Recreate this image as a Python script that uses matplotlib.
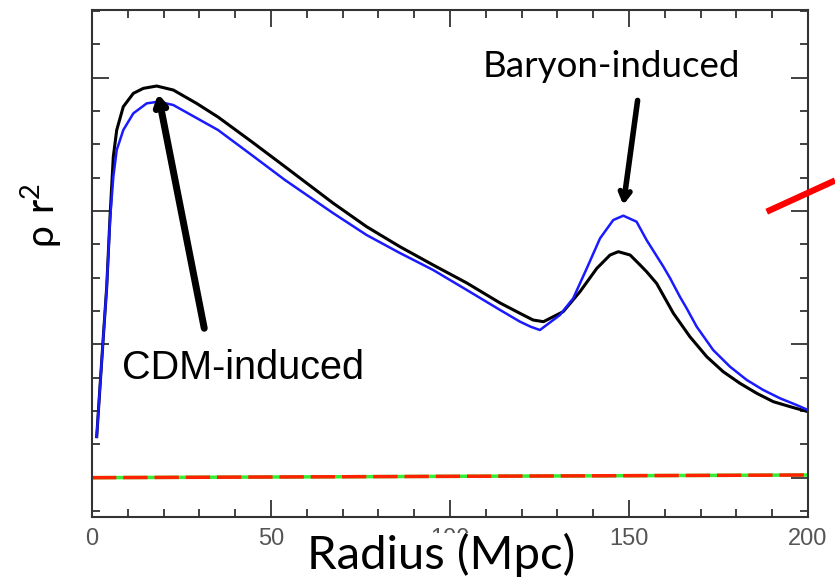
import numpy as np
import matplotlib.pyplot as plt
from matplotlib.lines import Line2D

# correlation function shape (arbitrary units)
r_black = [1.31, 2.23, 3.16, 4.11, 5.03, 5.95, 6.90, 8.74, 11.54, 14.33, 18.07, 22.7, 29.2,
           35.2, 44.6, 53.9, 67.3, 76.7, 86.0, 95.3, 104.7, 114.0, 119.55, 123.2, 126.1,
           131.6, 136.3, 141.0, 144.7, 147.0, 150.3, 153.1, 154.9, 157.7, 162.4, 167.0,
           171.7, 176.3, 181.0, 185.7, 190.3, 195.0, 200.0]
rho_black = [2.23, 3.73, 5.23, 6.73, 8.83, 10.63, 11.43, 12.13, 12.53, 12.68, 12.75, 12.63, 12.23,
             11.82, 11.08, 10.33, 9.24, 8.53, 7.93, 7.38, 6.84, 6.24, 5.93, 5.73, 5.68,
             5.98, 6.58, 7.28, 7.68, 7.78, 7.68, 7.38, 7.18, 6.83, 5.93, 5.23,
             4.63, 4.18, 3.83, 3.53, 3.28, 3.13, 2.98]

r_blue = [1.31, 2.23, 3.16, 4.11, 5.03, 5.95, 6.90, 8.74, 11.54, 15.28, 18.52, 22.7, 30.2,
          35.2, 44.6, 53.9, 67.3, 76.7, 86.0, 95.3, 104.7, 114.0, 119.55, 122.5, 125.1,
          130.7, 134.4, 138.2, 141.9, 145.6, 148.4, 152.1, 154.9, 159.6, 161.5, 164.2,
          166.1, 168.9, 173.5, 178.2, 182.9, 187.5, 192.2, 196.8, 200.0]
rho_blue = [2.23, 3.73, 5.23, 6.73, 8.73, 10.03, 10.83, 11.43, 11.93, 12.23, 12.28, 12.18, 11.73,
            11.43, 10.68, 9.93, 8.94, 8.28, 7.74, 7.23, 6.63, 6.03, 5.68, 5.53, 5.43,
            5.88, 6.38, 7.28, 8.18, 8.73, 8.86, 8.68, 8.13, 7.33, 6.98, 6.43,
            6.08, 5.53, 4.83, 4.33, 3.93, 3.63, 3.38, 3.18, 3.03]

r_flat = [0, 200]
rho_flat = [1.0, 1.08]

fig = plt.figure(figsize=(8.35, 5.83), dpi=100)
ax = fig.add_axes([0.1102, 0.1132, 0.8575, 0.8696])

ax.plot(r_black, rho_black, color="black", lw=2.2)
ax.plot(r_blue, rho_blue, color="#1a1aff", lw=1.8)
ax.plot(r_flat, rho_flat, color="#33ee33", lw=2.5)
ax.plot(r_flat, rho_flat, color="#ff2200", lw=2.5, dashes=(7, 2))

ax.set_xlim(0, 200)
ax.set_ylim(-0.18, 15.03)

ax.set_xticks([0, 50, 100, 150, 200])
ax.set_xticklabels(["0", "50", "100", "150", "200"], color="#555555",
                   fontsize=17, family="Liberation Sans")
ax.set_xticks(np.arange(0, 201, 10), minor=True)
ax.set_yticks([1, 5, 9, 13])
ax.set_yticklabels([])
ax.set_yticks(np.arange(0, 16, 1), minor=True)
ax.tick_params(which="both", direction="in", top=True, right=True, color="#333333", width=1.3)
ax.tick_params(which="major", length=12.5, pad=8)
ax.tick_params(which="minor", length=6)
for s in ax.spines.values():
    s.set_color("#333333")
    s.set_linewidth(1.5)

# axis labels (the big label hides most of the "100" tick label, as in the original)
ax.text(0.488, -0.075, "Radius (Mpc)", transform=ax.transAxes, ha="center", va="center",
        fontsize=34, family="Lato", zorder=5, clip_on=False,
        bbox=dict(facecolor="white", edgecolor="none", pad=0))
fig.text(0.050, 0.63, r"$\mathregular{\rho\ r^2}$", rotation=90, ha="center", va="center",
         fontsize=28, family="Lato")

# annotations
ax.annotate("", xy=(18.3, 12.6), xytext=(31.5, 5.4),
            arrowprops=dict(arrowstyle="->,head_length=0.6,head_width=0.35", color="black", lw=5))
ax.text(8.4, 4.29, "CDM-induced", fontsize=28.5, family="Liberation Sans", ha="left", va="center")
ax.annotate("", xy=(148.3, 9.1), xytext=(152.5, 12.4),
            arrowprops=dict(arrowstyle="->,head_length=0.6,head_width=0.35", color="black", lw=4))
ax.text(145.1, 13.35, "Baryon-induced", fontsize=26.5, family="Lato", ha="center", va="center")

# red stroke coming in from the right edge
fig.add_artist(Line2D([766.7 / 835, 1.0], [1 - 211.7 / 583, 1 - 180.5 / 583],
                      color="red", lw=4.5, solid_capstyle="butt"))

fig.savefig("out.png", dpi=100)
